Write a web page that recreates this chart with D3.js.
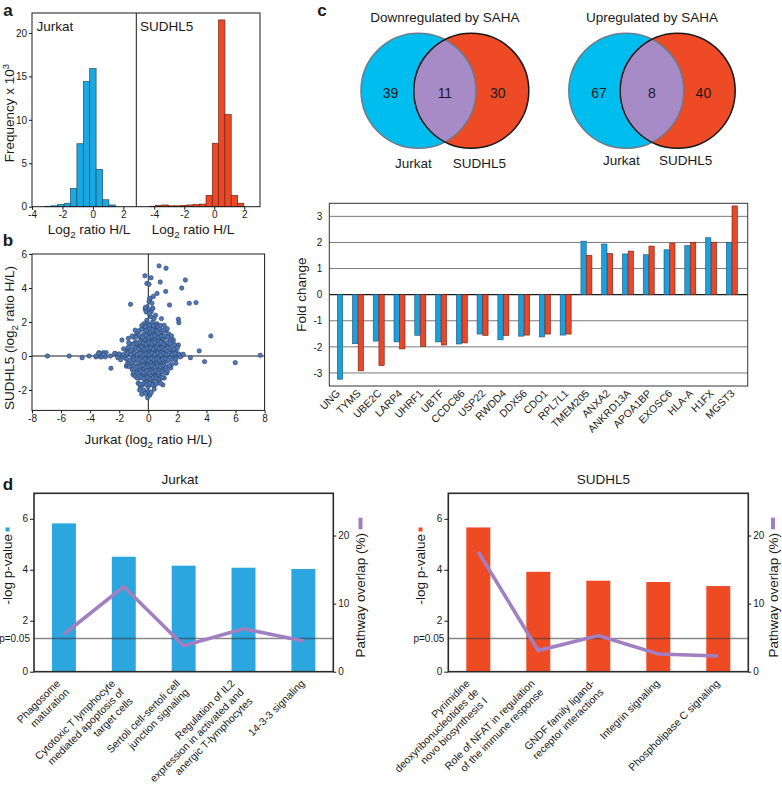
<!DOCTYPE html>
<html><head><meta charset="utf-8">
<script src="https://cdn.jsdelivr.net/npm/d3@7"></script>
<style>
body{margin:0;background:#fff}
svg{display:block}
text{font-family:"Liberation Sans",Arial,Helvetica,sans-serif;fill:#1a1a1a}
</style>
</head><body>
<svg id="c" width="782" height="789"></svg>
<script>
// ================= DATA =================
// Panel a: histograms (frequency x 10^3), bin width in log2 units
const histBinWidth = 0.42;
const jurkatHistStart = [-3.15,-2.73,-2.31,-1.89,-1.47,-1.05,-0.63,-0.21,0.21,0.63,1.05];
const jurkatHistCount = [0.05,0.1,0.25,0.4,2.1,7.25,14.4,15.9,4.3,0.8,0.2];
const sudhlHistStart  = [-4.33,-3.91,-3.49,-3.07,-2.65,-2.23,-1.81,-1.39,-0.97,-0.55,-0.13,0.29,0.71,1.13,1.55];
const sudhlHistCount  = [0.05,0.15,0.2,0.1,0.1,0.15,0.2,0.25,0.3,1.3,7.3,21.5,10.6,1.3,0.4];
const histTicksY = [0,5,10,15,20];
const histTicksX = [-4,-2,0,2];

// Panel b: scatter (Jurkat log2 H/L, SUDHL5 log2 H/L)
const scatterOutliers = [
 [0.74,5.3],[1.22,5.16],[-0.23,4.72],[0.19,4.6],[-0.1,4.27],[0.05,4.22],[0.82,4.35],[2.55,4.47],[2.3,4.0],[1.2,3.8],
 [0.6,3.68],[0.35,3.5],[0.12,3.35],[-1.22,3.04],[1.46,3.0],[2.82,3.1],[3.28,3.14],[-0.08,2.9],[-0.21,2.75],[0.04,2.7],
 [0.3,2.8],[2.07,2.16],[2.1,1.96],[4.3,1.18],[3.5,0.3],[3.87,-0.33],[5.98,-0.39],[7.7,0.04],[2.9,-0.1],[-6.94,0],
 [-5.44,0],[-4.55,-0.1],[-4.07,0],[-3.6,-0.05],[-3.4,0.2],[-3.3,-0.05],[-3.1,0.2],[-2.95,-0.05],[-2.57,-0.72],[-2.3,0.15],
 [-2.15,0.1],[-2.0,-0.05],[-1.81,0.94],[-1.37,1.04],[-1.5,-0.6],[-1.05,-1.1],[-0.55,-1.8],[0,-2.1],[0.05,-2.3],
 [1.72,0.94],[2.07,0.65],[1.6,0.36],[2.1,0.06],[2.24,0.0],[1.9,-0.43],[1.55,-0.7],[1.27,-1.0],[0.8,-1.35],[-1.47,-0.53],
 [-0.15,2.6],[0.05,3.2],[0.1,3.4],[-0.2,2.85],[0.25,3.1],
 [-2.3,0.15],[-2.1,-0.1],[-2.6,0.0],[-2.9,0.2],[-3.2,-0.05],[-3.4,0.15],[-3.6,0.0],[-3.1,0.1]
];
const scatterCore = [
 [-0.1,2.1],[0.3,2.0],[0.6,1.9],[0.2,2.3],[0.9,2.2],[-0.3,1.9],[1.1,1.8],[0.5,2.4],
 [-0.6,1.5],[-0.3,1.6],[0,1.5],[0.2,1.7],[0.4,1.5],[0.7,1.6],[0.9,1.4],[1.2,1.5],[-0.1,1.8],[0.5,1.8],[1.4,1.3],[-0.8,1.3],
 [-1.0,1.1],[-0.7,1.2],[-0.5,1.0],[-0.3,1.3],[-0.1,1.1],[0.1,1.2],[0.3,1.0],[0.5,1.3],[0.6,1.1],[0.8,1.2],[1.0,1.0],[1.2,1.1],
 [1.5,1.0],[0,1.35],[0.35,1.25],[0.75,0.95],[-0.2,0.95],
 [-1.2,0.7],[-0.9,0.8],[-0.7,0.6],[-0.5,0.9],[-0.3,0.7],[-0.1,0.8],[0.1,0.6],[0.2,0.9],[0.4,0.7],[0.6,0.8],[0.8,0.6],[1.0,0.8],
 [1.2,0.7],[1.4,0.6],[1.7,0.8],[0.0,0.65],[0.3,0.85],[0.5,0.6],[0.7,0.9],[0.9,0.75],[-0.4,0.6],[1.1,0.55],
 [-1.5,0.3],[-1.3,0.4],[-1.0,0.2],[-0.8,0.5],[-0.6,0.3],[-0.4,0.4],[-0.2,0.2],[0,0.5],[0.2,0.3],[0.4,0.45],[0.6,0.25],[0.8,0.4],
 [1.0,0.3],[1.2,0.45],[1.4,0.2],[1.6,0.35],[1.9,0.3],[-0.1,0.35],[0.1,0.4],[0.3,0.2],[0.5,0.35],[0.7,0.5],[0.9,0.2],[1.1,0.35],
 [-0.3,0.5],[-0.5,0.25],[0.15,0.55],[0.45,0.15],
 [-1.8,0.05],[-1.6,-0.1],[-1.3,0.1],[-1.1,-0.05],[-0.9,0.1],[-0.7,-0.1],[-0.5,0.05],[-0.3,-0.15],[-0.1,0.1],[0.1,-0.05],
 [0.3,0.1],[0.5,-0.1],[0.7,0.05],[0.9,-0.15],[1.1,0.1],[1.3,-0.05],[1.5,0.1],[1.7,-0.1],[2.0,0.05],[2.2,-0.05],[0,0],
 [0.2,0.15],[0.4,-0.2],[0.6,0.12],[0.8,-0.02],[-0.2,0.02],[-0.4,0.15],[1.0,-0.1],[2.4,0.1],
 [-1.4,-0.4],[-1.1,-0.5],[-0.9,-0.3],[-0.7,-0.55],[-0.5,-0.35],[-0.3,-0.5],[-0.1,-0.3],[0.1,-0.55],[0.3,-0.35],[0.5,-0.5],
 [0.7,-0.3],[0.9,-0.55],[1.1,-0.4],[1.3,-0.3],[1.6,-0.5],[0,-0.45],[0.2,-0.3],[0.4,-0.6],[0.6,-0.42],[-0.2,-0.6],[-0.6,-0.45],[0.8,-0.35],
 [-1.1,-0.8],[-0.8,-0.9],[-0.6,-0.75],[-0.4,-1.0],[-0.2,-0.8],[0,-0.95],[0.2,-0.75],[0.4,-0.9],[0.6,-0.8],[0.8,-1.0],[1.0,-0.8],
 [1.3,-0.9],[-0.3,-0.7],[0.1,-0.85],[0.5,-1.0],[0.9,-0.7],
 [-0.9,-1.2],[-0.6,-1.3],[-0.4,-1.15],[-0.2,-1.4],[0,-1.2],[0.2,-1.3],[0.4,-1.1],[0.6,-1.35],[0.8,-1.2],[1.1,-1.3],[-0.1,-1.1],[0.3,-1.45],
 [-0.7,-1.6],[-0.4,-1.7],[-0.2,-1.55],[0,-1.8],[0.2,-1.6],[0.4,-1.75],[0.7,-1.55],[1.0,-1.7],
 [-0.3,-2.0],[0,-2.1],[0.1,-2.3],[-0.05,-2.45],[0.4,-1.95],[-0.6,-2.0],
 [0.05,0.25],[0.25,0.05],[0.35,0.3],[-0.05,0.15],[0.15,0.1],[0.1,0.2],[0.3,0.4],[0.2,0.5],[-0.15,0.4],[0.45,0.05],[0.55,0.2],
 [0.05,-0.15],[-0.25,0.25],[0.35,-0.1],[0.15,0.7],[0.25,0.65],[-0.1,0.55],[0.65,0.6],[0.05,0.95],[0.45,1.05],[0.15,-0.4],
 [-0.05,-0.65],[0.35,-0.7],[0.25,-1.0],[-0.15,-1.25],[0.5,-1.2],[0.15,1.45],[0.55,1.55],[0.35,1.65],[0.0,1.9],[0.2,2.6],
 [0.05,2.5],[0.4,2.2],[0.3,2.8],
 [-0.45,1.78],[-0.2,1.72],[0.1,1.8],[0.35,1.77],[0.65,1.73],[0.85,1.8],
 [-0.9,1.52],[-0.45,1.58],[-0.15,1.5],[0.1,1.6],[0.3,1.53],[0.6,1.47],[0.8,1.57],[1.05,1.52],[1.3,1.6],
 [-1.1,1.18],[-0.85,1.1],[-0.6,1.2],[-0.4,1.12],[-0.15,1.2],[0.05,1.08],[0.25,1.15],[0.45,1.2],[0.7,1.1],[0.9,1.17],[1.1,1.2],[1.35,1.12],[1.6,1.18],
 [-1.35,0.78],[-1.05,0.7],[-0.8,0.76],[-0.6,0.82],[-0.35,0.75],[-0.15,0.68],[0.05,0.78],[0.25,0.72],[0.45,0.82],[0.65,0.7],[0.85,0.8],[1.05,0.68],[1.3,0.8],[1.5,0.72],[1.8,0.65],
 [-1.7,0.42],[-1.4,0.5],[-1.15,0.4],[-0.9,0.47],[-0.7,0.4],[-0.45,0.52],[-0.25,0.4],[-0.05,0.45],[0.15,0.48],[0.35,0.4],[0.55,0.5],[0.75,0.42],[0.95,0.47],[1.15,0.4],[1.35,0.5],[1.55,0.45],[1.75,0.4],[2.0,0.48],
 [-2.0,0.12],[-1.7,0.08],[-1.45,0.15],[-1.2,0.1],[-0.95,0.18],[-0.75,0.08],[-0.55,0.14],[-0.35,0.06],[-0.15,0.12],[0.05,0.08],[0.25,0.16],[0.45,0.1],[0.65,0.18],[0.85,0.08],[1.05,0.14],[1.25,0.08],[1.45,0.15],[1.65,0.1],[1.85,0.14],[2.1,0.12],
 [-1.9,-0.22],[-1.5,-0.18],[-1.25,-0.25],[-1.0,-0.2],[-0.8,-0.15],[-0.6,-0.22],[-0.4,-0.28],[-0.2,-0.18],[0,-0.25],[0.2,-0.15],[0.4,-0.22],[0.6,-0.18],[0.8,-0.26],[1.0,-0.2],[1.2,-0.16],[1.4,-0.24],[1.65,-0.2],[1.9,-0.18],
 [-1.3,-0.62],[-1.0,-0.58],[-0.8,-0.65],[-0.55,-0.6],[-0.35,-0.55],[-0.15,-0.65],[0.05,-0.6],[0.25,-0.55],[0.45,-0.66],[0.65,-0.58],[0.85,-0.62],[1.05,-0.56],[1.25,-0.64],[1.45,-0.58],
 [-1.0,-0.95],[-0.7,-1.02],[-0.5,-0.92],[-0.3,-0.98],[-0.1,-0.9],[0.1,-1.0],[0.3,-0.94],[0.5,-0.88],[0.7,-0.98],[0.95,-0.92],[1.15,-1.0],
 [-0.75,-1.3],[-0.5,-1.25],[-0.3,-1.33],[-0.05,-1.28],[0.15,-1.35],[0.35,-1.27],[0.55,-1.3],[0.75,-1.36],[0.95,-1.25],
 [-0.55,-1.66],[-0.3,-1.6],[-0.1,-1.68],[0.1,-1.63],[0.3,-1.7],[0.55,-1.64],[0.85,-1.6],
 [-0.2,-2.2],[0.2,-2.15],[-0.45,-2.25]
];
const scatterTicksX = [-8,-6,-4,-2,0,2,4,6,8];
const scatterTicksY = [-2,0,2,4,6];

// Panel c: Venn diagrams
const vennTitles = ["Downregulated by SAHA","Upregulated by SAHA"];
const vennOnlyJurkat = [39,67];
const vennBoth = [11,8];
const vennOnlySUDHL5 = [30,40];
const vennSetNames = ["Jurkat","SUDHL5"];

// Panel c: fold change bars
const genes = ["UNG","TYMS","UBE2C","LARP4","UHRF1","UBTF","CCDC86","USP22","RWDD4","DDX56","CDO1","RPL7L1",
               "TMEM205","ANXA2","ANKRD13A","APOA1BP","EXOSC6","HLA-A","H1FX","MGST3"];
const foldJurkat = [-3.24,-1.88,-1.78,-1.81,-1.56,-1.81,-1.89,-1.51,-1.73,-1.59,-1.62,-1.55,
                    2.05,1.94,1.56,1.53,1.72,1.88,2.18,2.0];
const foldSUDHL5 = [null,-2.92,-2.72,-2.08,-1.98,-1.93,-1.85,-1.56,-1.56,-1.55,-1.51,-1.51,
                    1.51,1.58,1.67,1.86,1.97,2.0,2.01,3.4];
const foldTicks = [-3,-2,-1,0,1,2,3];

// Panel d: pathways
const jurkatPathways = [["Phagosome","maturation"],["Cytotoxic T lymphocyte","mediated apoptosis of","target cells"],
  ["Sertoli cell-sertoli cell","junction signaling"],["Regulation of IL2","expression in activated and","anergic T-lymphocytes"],
  ["14-3-3 signaling"]];
const jurkatLogP = [5.82,4.51,4.16,4.08,4.03];
const jurkatOverlap = [5.5,12.5,3.8,6.3,4.5];
const sudhlPathways = [["Pyrimidine","deoxyribonucleotides de","novo biosynthesis I"],["Role of NFAT in regulation","of the immune response"],
  ["GNDF family ligand-","receptor interactions"],["Integrin signaling"],["Phospholipase C signaling"]];
const sudhlLogP = [5.66,3.92,3.57,3.52,3.36];
const sudhlOverlap = [17.6,3.1,5.3,2.6,2.3];
const pThreshold = 1.3;
const logPTicks = [0,2,4,6];
const overlapTicks = [0,10,20];

// ================= DRAW =================
const FONT = '"Liberation Sans", Arial, Helvetica, sans-serif';
const svg = d3.select("#c");
const PURPLE = "#a78bc6";
const fmt = d => String(d);

function styleAxis(g){
  g.attr("font-family",FONT).attr("font-size",10).attr("color","#1a1a1a");
  g.select(".domain").remove();
  g.selectAll("text").attr("fill","#1a1a1a");
}
function subLabel(t, pre, sub, post, fs){
  t.append("tspan").text(pre);
  t.append("tspan").attr("font-size",fs*0.72).attr("dy",fs*0.3).text(sub);
  t.append("tspan").attr("dy",-fs*0.3).text(post);
}
function panelLetter(x,y,l){
  svg.append("text").attr("x",x).attr("y",y).attr("font-size",17).attr("font-weight","bold").attr("text-anchor","middle").text(l);
}

// ---------- Panel a ----------
panelLetter(8,16,"a");
const hTop=13, hBot=206.7, hL=32, hMid=136.3, hR=260;
const hy = d3.scaleLinear().domain([0,22.3]).range([hBot,hTop]);
const jx = d3.scaleLinear().domain([-4,2.85]).range([hL,hMid]);
const sxh = d3.scaleLinear().domain([-5.2,3.05]).range([hMid,hR]);
function hist(starts,counts,xs,fill,stroke){
  svg.append("g").selectAll("rect").data(starts.map((s,i)=>({x0:s,x1:s+histBinWidth,c:counts[i]}))).enter().append("rect")
    .attr("x",d=>xs(d.x0)).attr("width",d=>xs(d.x1)-xs(d.x0))
    .attr("y",d=>hy(d.c)).attr("height",d=>hy(0)-hy(d.c))
    .attr("fill",fill).attr("stroke",stroke).attr("stroke-width",0.7);
}
hist(jurkatHistStart,jurkatHistCount,jx,"#19a9e2","#1d4e68");
hist(sudhlHistStart,sudhlHistCount,sxh,"#ec4826","#6e2416");
svg.append("rect").attr("x",hL).attr("y",hTop).attr("width",hR-hL).attr("height",hBot-hTop).attr("fill","none").attr("stroke","#1a1a1a").attr("stroke-width",1);
svg.append("line").attr("x1",hMid).attr("x2",hMid).attr("y1",hTop).attr("y2",hBot).attr("stroke","#1a1a1a");
svg.append("g").attr("transform",`translate(${hL},0)`).call(d3.axisLeft(hy).tickValues(histTicksY).tickSize(3).tickPadding(2)).call(styleAxis);
svg.append("g").attr("transform",`translate(0,${hBot})`).call(d3.axisBottom(jx).tickValues(histTicksX).tickFormat(fmt).tickSize(3).tickPadding(1)).call(styleAxis);
svg.append("g").attr("transform",`translate(0,${hBot})`).call(d3.axisBottom(sxh).tickValues(histTicksX).tickFormat(fmt).tickSize(3).tickPadding(1)).call(styleAxis);
svg.append("text").attr("x",36.5).attr("y",31).attr("font-size",13.5).text("Jurkat");
svg.append("text").attr("x",140).attr("y",31).attr("font-size",13.5).text("SUDHL5");
subLabel(svg.append("text").attr("x",89).attr("y",234).attr("font-size",13.5).attr("text-anchor","middle"),"Log","2"," ratio H/L",13.5);
subLabel(svg.append("text").attr("x",193).attr("y",234).attr("font-size",13.5).attr("text-anchor","middle"),"Log","2"," ratio H/L",13.5);
{
  const t = svg.append("text").attr("transform","translate(14,113) rotate(-90)").attr("font-size",13.5).attr("text-anchor","middle");
  t.append("tspan").text("Frequency x 10");
  t.append("tspan").attr("font-size",9.5).attr("dy",-5.5).text("3");
}

// ---------- Panel b ----------
panelLetter(8,246,"b");
const bL=32, bR=264.6, bT=254, bB=410.4;
const bx = d3.scaleLinear().domain([-8,8]).range([bL,bR]);
const by = d3.scaleLinear().domain([-3.2,6]).range([bB,bT]);
svg.append("rect").attr("x",bL).attr("y",bT).attr("width",bR-bL).attr("height",bB-bT).attr("fill","none").attr("stroke","#1a1a1a");
svg.append("line").attr("x1",bx(0)).attr("x2",bx(0)).attr("y1",bT).attr("y2",bB).attr("stroke","#1a1a1a");
svg.append("line").attr("x1",bL).attr("x2",bR).attr("y1",by(0)).attr("y2",by(0)).attr("stroke","#1a1a1a");
svg.append("g").selectAll("circle").data(scatterOutliers.concat(scatterCore)).enter().append("circle")
  .attr("cx",d=>bx(d[0])).attr("cy",d=>by(d[1])).attr("r",2.2)
  .attr("fill","#4f77b2").attr("stroke","#2a4470").attr("stroke-width",0.6);
svg.append("g").attr("transform",`translate(${bL},0)`).call(d3.axisLeft(by).tickValues(scatterTicksY).tickFormat(fmt).tickSize(3).tickPadding(2)).call(styleAxis);
svg.append("g").attr("transform",`translate(0,${bB})`).call(d3.axisBottom(bx).tickValues(scatterTicksX).tickFormat(fmt).tickSize(3).tickPadding(2)).call(styleAxis);
subLabel(svg.append("text").attr("x",bx(0)).attr("y",444).attr("font-size",13.5).attr("text-anchor","middle"),"Jurkat (log","2"," ratio H/L)",13.5);
subLabel(svg.append("text").attr("transform","translate(14,338) rotate(-90)").attr("font-size",13.5).attr("text-anchor","middle"),"SUDHL5 (log","2"," ratio H/L)",13.5);

// ---------- Panel c: Venn ----------
panelLetter(322,16,"c");
const vennCX = [[418.5,471.3],[626.3,677.7]], vennCY = 90.8, vennR = 57.5;
const defs = svg.append("defs");
vennTitles.forEach((title,i)=>{
  const [c1,c2] = vennCX[i];
  const g = svg.append("g");
  g.append("text").attr("x",(c1+c2)/2).attr("y",22).attr("font-size",13.5).attr("text-anchor","middle").text(title);
  defs.append("clipPath").attr("id","vclip"+i).append("circle").attr("cx",c1).attr("cy",vennCY).attr("r",vennR);
  g.append("circle").attr("cx",c1).attr("cy",vennCY).attr("r",vennR).attr("fill","#00bdf0");
  g.append("circle").attr("cx",c2).attr("cy",vennCY).attr("r",vennR).attr("fill","#ee4a25");
  g.append("circle").attr("cx",c2).attr("cy",vennCY).attr("r",vennR).attr("fill",PURPLE).attr("clip-path",`url(#vclip${i})`);
  g.append("circle").attr("cx",c1).attr("cy",vennCY).attr("r",vennR).attr("fill","none").attr("stroke","#6c7b86").attr("stroke-width",1.5);
  g.append("circle").attr("cx",c2).attr("cy",vennCY).attr("r",vennR).attr("fill","none").attr("stroke","#161616").attr("stroke-width",1.5);
  const nums = [vennOnlyJurkat[i],vennBoth[i],vennOnlySUDHL5[i]];
  const nx = [c1-(c2-c1)*0.53,(c1+c2)/2,c2+(c2-c1)*0.5];
  nums.forEach((n,k)=>g.append("text").attr("x",nx[k]).attr("y",98).attr("font-size",14).attr("text-anchor","middle").text(n));
  g.append("text").attr("x",c1-5).attr("y",168-i*3).attr("font-size",13.5).attr("text-anchor","middle").text(vennSetNames[0]);
  g.append("text").attr("x",c2+8).attr("y",168-i*3).attr("font-size",13.5).attr("text-anchor","middle").text(vennSetNames[1]);
});

// ---------- Panel c: fold change ----------
const fL=329.3, fR=747.7, fT=203.3, fB=386;
const fx = d3.scaleBand().domain(genes).range([326.8,742.2]);
const fy = d3.scaleLinear().domain([-3.5,3.5]).range([fB,fT]);
const fg = svg.append("g");
foldTicks.forEach(v=>fg.append("line").attr("x1",fL).attr("x2",fR).attr("y1",fy(v)).attr("y2",fy(v))
  .attr("stroke",v===0?"#1a1a1a":"#7a7a7a").attr("stroke-width",v===0?1.1:1));
const bw = 5.3;
genes.forEach((gname,i)=>{
  const c = fx(gname)+fx.bandwidth()/2;
  const jv = foldJurkat[i], sv = foldSUDHL5[i];
  const jxp = sv==null ? c+0.2 : c-5.5;
  fg.append("rect").attr("x",jxp).attr("width",bw).attr("y",fy(Math.max(0,jv))).attr("height",Math.abs(fy(jv)-fy(0)))
    .attr("fill","#1c9fda").attr("stroke","#1c5678").attr("stroke-width",0.6);
  if(sv!=null) fg.append("rect").attr("x",c+0.2).attr("width",bw).attr("y",fy(Math.max(0,sv))).attr("height",Math.abs(fy(sv)-fy(0)))
    .attr("fill","#e8472a").attr("stroke","#6e1f10").attr("stroke-width",0.6);
  fg.append("text").attr("transform",`translate(${c+3.5},394) rotate(-45)`).attr("text-anchor","end").attr("font-size",10.5).text(gname);
});
fg.append("rect").attr("x",fL).attr("y",fT).attr("width",fR-fL).attr("height",fB-fT).attr("fill","none").attr("stroke","#333").attr("stroke-width",1);
svg.append("g").attr("transform",`translate(${fL},0)`).call(d3.axisLeft(fy).tickValues(foldTicks).tickFormat(fmt).tickSize(0).tickPadding(7)).call(styleAxis);
svg.append("text").attr("transform",`translate(306,${fy(0)}) rotate(-90)`).attr("font-size",13.5).attr("text-anchor","middle").text("Fold change");

// ---------- Panel d ----------
panelLetter(8,490,"d");
function pathwayPanel(o){
  const top=493.3, bot=671.7;
  const x = d3.scaleBand().domain(d3.range(o.labels.length)).range([o.left,o.right]).paddingInner(0.6).paddingOuter(0.3);
  const yl = d3.scaleLinear().domain([0,7]).range([bot,top]);
  const yr = d3.scaleLinear().domain([0,26.2]).range([bot,top]);
  const g = svg.append("g");
  g.append("text").attr("x",o.titleX).attr("y",484).attr("font-size",13.5).attr("text-anchor","middle").text(o.title);
  g.selectAll("rect.bar").data(o.logp).enter().append("rect")
    .attr("x",(d,i)=>x(i)).attr("width",x.bandwidth()).attr("y",d=>yl(d)).attr("height",d=>bot-yl(d)).attr("fill",o.color);
  g.append("line").attr("x1",o.left).attr("x2",o.right).attr("y1",yl(pThreshold)).attr("y2",yl(pThreshold))
    .attr("stroke","#3a3a3a").attr("stroke-opacity",0.6).attr("stroke-width",1.5);
  const line = d3.line().x((d,i)=>x(i)+x.bandwidth()/2).y(d=>yr(d));
  g.append("path").attr("d",line(o.overlap)).attr("fill","none").attr("stroke","#a27fc1").attr("stroke-width",3.6).attr("stroke-linejoin","miter");
  g.append("rect").attr("x",o.left).attr("y",top).attr("width",o.right-o.left).attr("height",bot-top).attr("fill","none").attr("stroke","#2a2a2a").attr("stroke-width",1.6);
  g.append("g").attr("transform",`translate(${o.left},0)`).call(d3.axisLeft(yl).tickValues(logPTicks).tickFormat(fmt).tickSize(4).tickPadding(2)).call(styleAxis);
  g.append("g").attr("transform",`translate(${o.right},0)`).call(d3.axisRight(yr).tickValues(overlapTicks).tickFormat(fmt).tickSize(3).tickPadding(2)).call(styleAxis);
  g.append("text").attr("x",o.left-4).attr("y",yl(pThreshold)+3.5).attr("font-size",10).attr("text-anchor","end").text("p=0.05");
  // axis titles
  g.append("text").attr("transform",`translate(${o.ylabX},534) rotate(-90)`).attr("font-size",13.5).attr("text-anchor","end").text("-log p-value");
  g.append("rect").attr("x",o.ylabX-6.5).attr("y",527.5).attr("width",4).attr("height",4).attr("fill",o.color);
  g.append("text").attr("transform",`translate(${o.yrlabX},533) rotate(-90)`).attr("font-size",13.5).attr("text-anchor","end").text("Pathway overlap (%)");
  g.append("rect").attr("x",o.yrlabX-6.5).attr("y",517.7).attr("width",4).attr("height",11.6).attr("fill","#a27fc1");
  // category labels
  o.labels.forEach((lines,i)=>{
    const cx = x(i)+x.bandwidth()/2 + 2 - (lines.length-1)*5;
    const t = g.append("text").attr("transform",`translate(${cx},684) rotate(-45)`).attr("text-anchor","end").attr("font-size",10.5);
    lines.forEach((ln,k)=>t.append("tspan").attr("x",0).attr("dy",k===0?0:12.5).text(ln));
  });
}
pathwayPanel({left:34,right:333.3,title:"Jurkat",titleX:180,color:"#2ba6de",labels:jurkatPathways,logp:jurkatLogP,overlap:jurkatOverlap,ylabX:12,yrlabX:365});
pathwayPanel({left:448.3,right:748.3,title:"SUDHL5",titleX:603.3,color:"#ee4a24",labels:sudhlPathways,logp:sudhlLogP,overlap:sudhlOverlap,ylabX:425,yrlabX:777.5});
</script>
</body></html>
